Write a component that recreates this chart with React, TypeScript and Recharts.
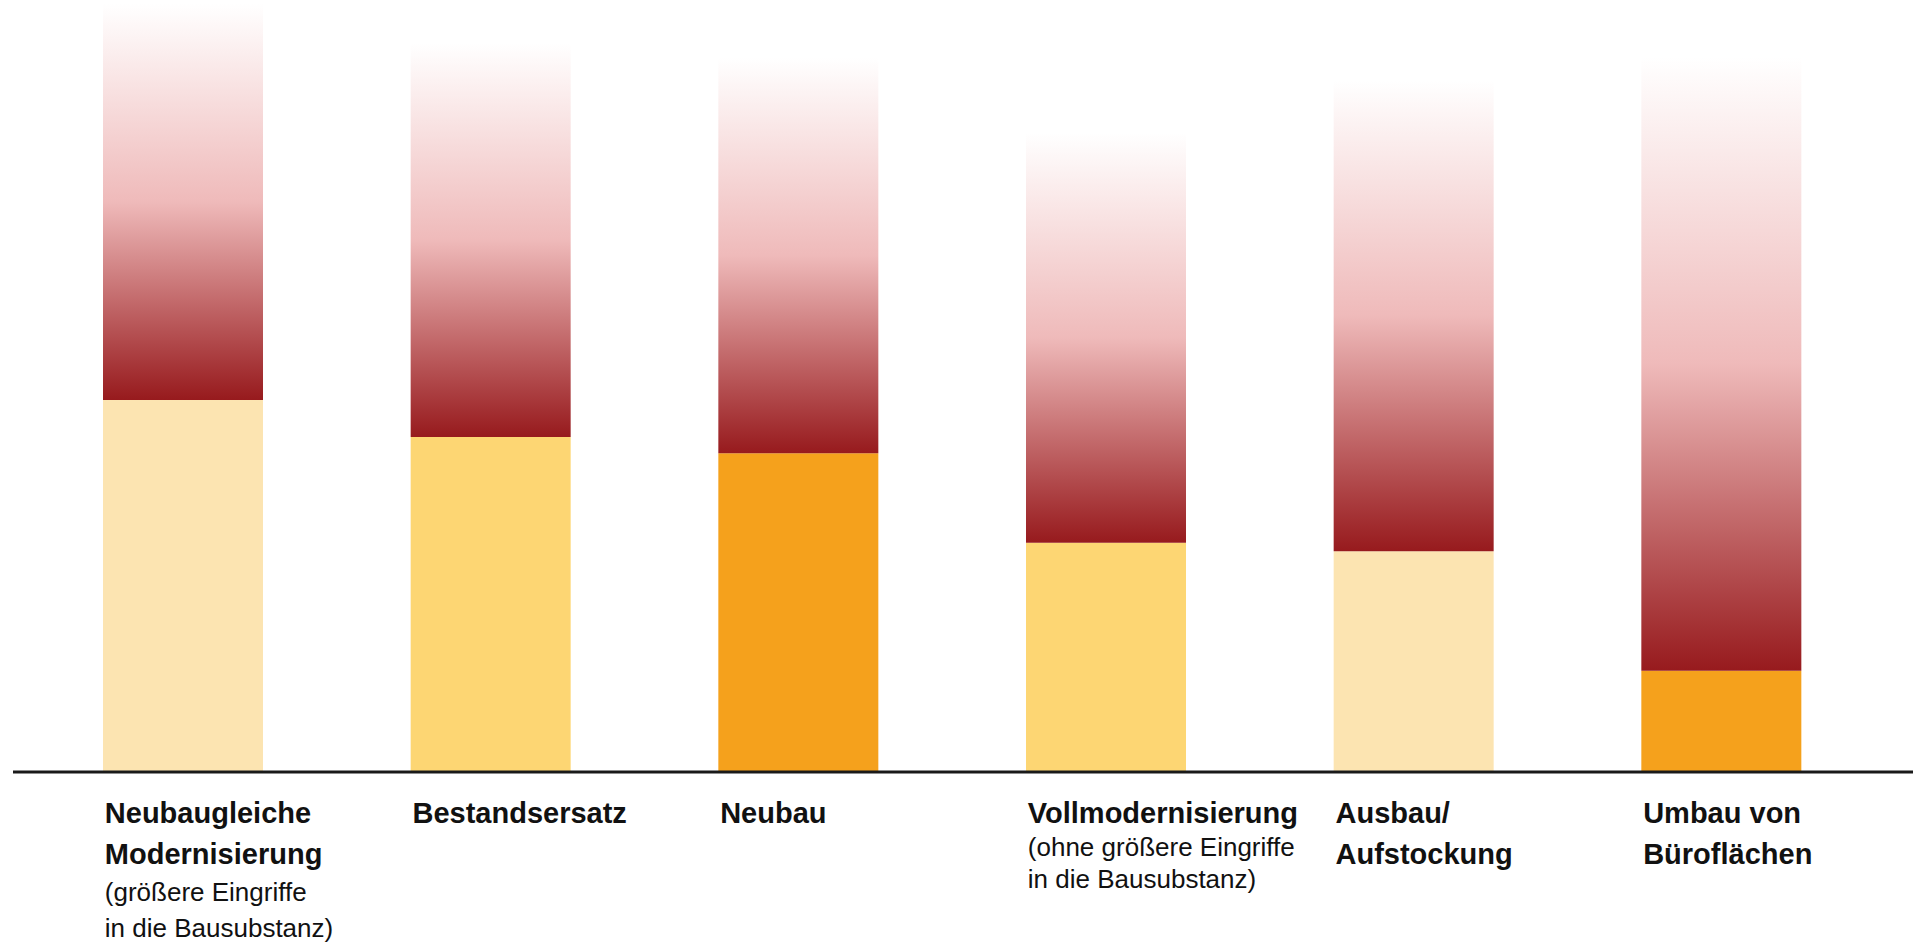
import { BarChart, Bar, XAxis, YAxis, Cell } from 'recharts';

const kategorien = [
  'Neubaugleiche Modernisierung',
  'Bestandsersatz',
  'Neubau',
  'Vollmodernisierung',
  'Ausbau/Aufstockung',
  'Umbau von Büroflächen',
];

// Beschriftungszeilen je Kategorie: fett = Hauptbegriff, normal = Zusatz
const beschriftungFett = [
  ['Neubaugleiche', 'Modernisierung'],
  ['Bestandsersatz'],
  ['Neubau'],
  ['Vollmodernisierung'],
  ['Ausbau/', 'Aufstockung'],
  ['Umbau von', 'Büroflächen'],
];
const beschriftungZusatz = [
  ['(größere Eingriffe', 'in die Bausubstanz)'],
  [],
  [],
  ['(ohne größere Eingriffe', 'in die Bausubstanz)'],
  [],
  [],
];

// Sockelwert (gelb/orange) und Obergrenze der Spanne (roter Verlauf), Index 0–100
const sockel = [48.2, 43.4, 41.3, 29.7, 28.6, 13.1];
const obergrenze = [99.5, 94.4, 92.5, 82.8, 89.6, 92.6];

const sockelFarben = ['#fce4b1', '#fdd673', '#f5a11c', '#fdd673', '#fce4b1', '#f5a11c'];

const daten = kategorien.map((name, i) => ({
  name,
  sockel: sockel[i],
  spanne: obergrenze[i] - sockel[i],
}));

function Beschriftung(props: any) {
  const { x, y, payload } = props;
  const i = payload.index;
  const links = x - 78;
  const zeilen: { text: string; fett: boolean; y: number }[] = [];
  let yPos = y + 51;
  beschriftungFett[i].forEach((t, k) => {
    if (k > 0) yPos += 41;
    zeilen.push({ text: t, fett: true, y: yPos });
  });
  const abstandZusatz = beschriftungFett[i].length > 1 ? 37 : 33;
  beschriftungZusatz[i].forEach((t, k) => {
    yPos += k === 0 ? abstandZusatz : abstandZusatz - 1;
    zeilen.push({ text: t, fett: false, y: yPos });
  });
  return (
    <g>
      {zeilen.map((z, k) => (
        <text
          key={k}
          x={links}
          y={z.y}
          textAnchor='start'
          fill='#111'
          fontFamily='"Liberation Sans", Arial, sans-serif'
          fontSize={z.fett ? 29 : 26}
          fontWeight={z.fett ? 700 : 400}
        >
          {z.text}
        </text>
      ))}
    </g>
  );
}

export default function App() {
  return (
    <div style={{ position: 'absolute', left: 0, top: 0, background: '#fff' }}>
      <BarChart
        width={1913}
        height={947}
        data={daten}
        margin={{ top: 0, right: 0, bottom: 25, left: 13 }}
        barSize={160}
      >
        <defs>
          <linearGradient id='spanneVerlauf' x1='0' y1='0' x2='0' y2='1'>
            <stop offset='0%' stopColor='#ffffff' />
            <stop offset='50%' stopColor='#efbaba' />
            <stop offset='100%' stopColor='#971a1d' />
          </linearGradient>
        </defs>
        <XAxis
          dataKey='name'
          interval={0}
          height={150}
          padding={{ left: 16, right: 38 }}
          tickLine={false}
          tickSize={0}
          tickMargin={0}
          axisLine={{ stroke: '#1a1a1a', strokeWidth: 3 }}
          tick={<Beschriftung />}
        />
        <YAxis hide domain={[0, 100]} />
        <Bar dataKey='sockel' stackId='a' isAnimationActive={false}>
          {daten.map((_, i) => (
            <Cell key={i} fill={sockelFarben[i]} />
          ))}
        </Bar>
        <Bar dataKey='spanne' stackId='a' fill='url(#spanneVerlauf)' isAnimationActive={false} />
      </BarChart>
    </div>
  );
}
